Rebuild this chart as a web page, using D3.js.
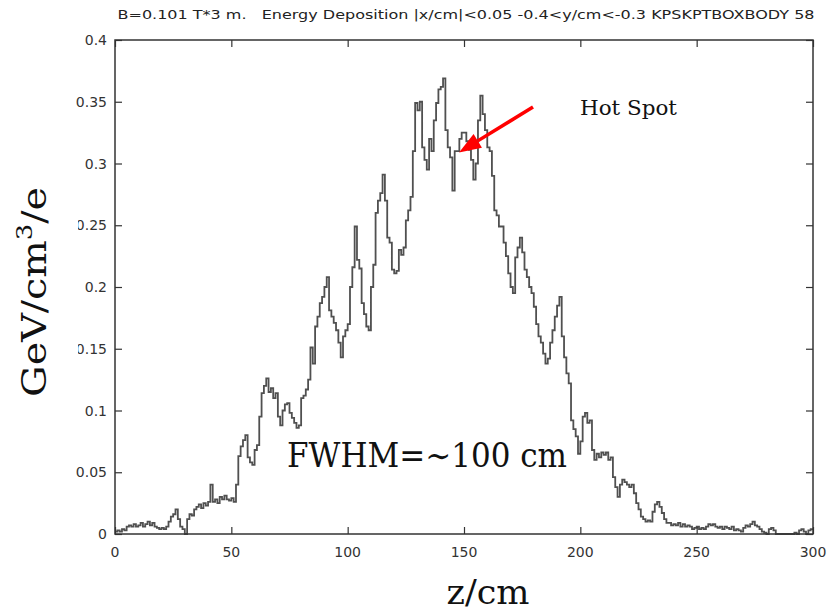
<!DOCTYPE html>
<html>
<head>
<meta charset="utf-8">
<script src="https://cdn.jsdelivr.net/npm/d3@7"></script>
<style>
html,body{margin:0;padding:0;background:#fff;}
svg{display:block;}
</style>
</head>
<body>
<svg id="chart" width="829" height="613"></svg>
<script>
// ---- data (1 cm bins, z = 0 .. 299) ----
const binStart = d3.range(0, 300, 1);
const energy = [
0.002,0.003,0.002,0.004,0.003,0.006,0.007,0.006,0.008,0.006,
0.007,0.009,0.006,0.008,0.010,0.007,0.009,0.006,0.005,0.004,
0.005,0.004,0.006,0.010,0.014,0.016,0.020,0.012,0.006,0.004,
0.000,0.012,0.016,0.015,0.020,0.022,0.024,0.021,0.025,0.023,
0.026,0.040,0.026,0.028,0.025,0.030,0.028,0.031,0.028,0.027,
0.029,0.026,0.040,0.063,0.071,0.076,0.080,0.062,0.058,0.056,
0.068,0.072,0.095,0.114,0.120,0.126,0.115,0.118,0.110,0.114,
0.095,0.088,0.100,0.105,0.106,0.098,0.094,0.090,0.086,0.088,
0.110,0.112,0.117,0.125,0.151,0.138,0.168,0.176,0.187,0.192,
0.200,0.208,0.181,0.176,0.171,0.165,0.155,0.143,0.160,0.165,
0.170,0.200,0.216,0.249,0.222,0.215,0.187,0.178,0.168,0.165,
0.200,0.218,0.260,0.270,0.276,0.291,0.270,0.240,0.236,0.214,
0.211,0.213,0.230,0.226,0.232,0.254,0.262,0.273,0.310,0.349,
0.343,0.350,0.313,0.303,0.295,0.320,0.310,0.335,0.349,0.360,
0.362,0.369,0.327,0.313,0.305,0.278,0.310,0.310,0.320,0.325,
0.325,0.318,0.311,0.303,0.287,0.300,0.335,0.355,0.340,0.327,
0.313,0.310,0.290,0.262,0.258,0.249,0.249,0.236,0.225,0.211,
0.200,0.195,0.224,0.232,0.240,0.228,0.214,0.208,0.200,0.195,
0.184,0.170,0.160,0.155,0.146,0.138,0.142,0.155,0.165,0.176,
0.185,0.192,0.160,0.143,0.130,0.122,0.092,0.085,0.079,0.065,
0.075,0.095,0.098,0.090,0.092,0.068,0.060,0.065,0.062,0.066,
0.064,0.066,0.060,0.062,0.046,0.038,0.030,0.040,0.044,0.042,
0.040,0.038,0.040,0.033,0.025,0.020,0.014,0.012,0.010,0.011,
0.010,0.018,0.024,0.026,0.022,0.017,0.012,0.009,0.009,0.007,
0.008,0.007,0.009,0.006,0.008,0.006,0.007,0.006,0.004,0.005,
0.006,0.004,0.005,0.004,0.006,0.008,0.007,0.008,0.006,0.005,
0.006,0.004,0.006,0.005,0.004,0.006,0.003,0.004,0.003,0.002,
0.005,0.007,0.006,0.008,0.010,0.007,0.006,0.004,0.002,0.001,
0.000,0.004,0.005,0.003,0.000,0.000,0.000,0.000,0.000,0.000,
0.000,0.000,0.001,0.000,0.003,0.004,0.002,0.000,0.003,0.004
];
const xTicks = [0, 50, 100, 150, 200, 250, 300];
const yTicks = [0, 0.05, 0.1, 0.15, 0.2, 0.25, 0.3, 0.35, 0.4];
const yTickLabels = ["0", "0.05", "0.1", "0.15", "0.2", "0.25", "0.3", "0.35", "0.4"];
const titleText = "B=0.101 T*3 m.   Energy Deposition |x/cm|<0.05 -0.4<y/cm<-0.3 KPSKPTBOXBODY 58";
const xLabel = "z/cm";
const annotFWHM = "FWHM=\u223C100 cm";
const annotHot = "Hot Spot";
const hotSpot = {z: 147, v: 0.309};

// ---- layout ----
const svg = d3.select("#chart");
const L = 115, R = 813, T = 40, B = 534;
const x = d3.scaleLinear().domain([0, 300]).range([L, R]);
const y = d3.scaleLinear().domain([0, 0.4]).range([B, T]);
const axisColor = "#333";
const tickFont = "DejaVu Sans, sans-serif";

// title
svg.append("text")
  .attr("x", (L + R) / 2 + 2).attr("y", 19)
  .attr("text-anchor", "middle")
  .attr("font-family", tickFont).attr("font-size", 12.5)
  .attr("fill", "#222")
  .attr("textLength", 697).attr("lengthAdjust", "spacingAndGlyphs")
  .style("white-space", "pre")
  .text(titleText);

// histogram line
const pts = binStart.map((z, i) => [z, energy[i]]);
pts.push([300, energy[energy.length - 1]]);
const line = d3.line().x(d => x(d[0])).y(d => y(d[1])).curve(d3.curveStepAfter);
svg.append("path")
  .attr("d", line(pts))
  .attr("fill", "none")
  .attr("stroke", "#505050")
  .attr("stroke-width", 1.8)
  .attr("stroke-linejoin", "miter");

// axes (inward ticks, mirrored)
const axL = d3.axisRight(y).tickValues(yTicks).tickSize(7).tickFormat("");
const axR = d3.axisLeft(y).tickValues(yTicks).tickSize(7).tickFormat("");
const axB = d3.axisTop(x).tickValues(xTicks).tickSize(7).tickFormat("");
const axT = d3.axisBottom(x).tickValues(xTicks).tickSize(7).tickFormat("");
function styleAxis(g){
  g.select(".domain").remove();
  g.selectAll("line").attr("stroke", axisColor).attr("stroke-width", 1.2);
}
svg.append("g").attr("transform", `translate(${L},0)`).call(axL).call(styleAxis);
svg.append("g").attr("transform", `translate(${R},0)`).call(axR).call(styleAxis);
svg.append("g").attr("transform", `translate(0,${B})`).call(axB).call(styleAxis);
svg.append("g").attr("transform", `translate(0,${T})`).call(axT).call(styleAxis);

// frame
svg.append("rect")
  .attr("x", L).attr("y", T).attr("width", R - L).attr("height", B - T)
  .attr("fill", "none").attr("stroke", axisColor).attr("stroke-width", 1.5);

// tick labels
svg.append("g").selectAll("text").data(yTicks).join("text")
  .attr("x", L - 8).attr("y", d => y(d) + 5)
  .attr("text-anchor", "end")
  .attr("font-family", tickFont).attr("font-size", 14).attr("fill", "#333")
  .text((d, i) => yTickLabels[i]);
svg.append("g").selectAll("text").data(xTicks).join("text")
  .attr("x", d => x(d)).attr("y", B + 23)
  .attr("text-anchor", "middle")
  .attr("font-family", tickFont).attr("font-size", 14).attr("fill", "#333")
  .text(d => d);

// y-axis label (box with white background that hides part of some tick labels)
svg.append("rect").attr("x", 0).attr("y", 185).attr("width", 78).attr("height", 215).attr("fill", "#fff");
const yl = svg.append("text")
  .attr("transform", "translate(46,292) rotate(-90)")
  .attr("text-anchor", "middle")
  .attr("font-family", "DejaVu Serif, serif").attr("font-size", 34).attr("fill", "#111")
  .attr("textLength", 210).attr("lengthAdjust", "spacingAndGlyphs");
yl.append("tspan").text("GeV/cm");
yl.append("tspan").attr("font-size", 22).attr("dy", -14).text("3");
yl.append("tspan").attr("dy", 14).text("/e");

// x-axis label
svg.append("text")
  .attr("x", 488).attr("y", 604)
  .attr("text-anchor", "middle")
  .attr("font-family", "DejaVu Serif, serif").attr("font-size", 33).attr("fill", "#111")
  .attr("textLength", 83).attr("lengthAdjust", "spacingAndGlyphs")
  .text(xLabel);

// annotations
svg.append("text")
  .attr("x", 287).attr("y", 467)
  .attr("font-family", "DejaVu Serif, serif").attr("font-size", 33).attr("fill", "#111")
  .attr("textLength", 280).attr("lengthAdjust", "spacingAndGlyphs")
  .text(annotFWHM);
svg.append("text")
  .attr("x", 580).attr("y", 115)
  .attr("font-family", "DejaVu Serif, serif").attr("font-size", 20).attr("fill", "#111")
  .attr("textLength", 97).attr("lengthAdjust", "spacingAndGlyphs")
  .text(annotHot);

// red arrow
const tipX = x(hotSpot.z) + 2, tipY = y(hotSpot.v);
const tailX = 533, tailY = 107;
const ang = Math.atan2(tipY - tailY, tipX - tailX);
const headLen = 22, headW = 8;
const baseX = tipX - headLen * Math.cos(ang), baseY = tipY - headLen * Math.sin(ang);
svg.append("line")
  .attr("x1", tailX).attr("y1", tailY).attr("x2", baseX).attr("y2", baseY)
  .attr("stroke", "#ff0000").attr("stroke-width", 3.5);
svg.append("path")
  .attr("d", `M${tipX},${tipY} L${baseX + headW * Math.sin(ang)},${baseY - headW * Math.cos(ang)} L${baseX - headW * Math.sin(ang)},${baseY + headW * Math.cos(ang)} Z`)
  .attr("fill", "#ff0000");
</script>
</body>
</html>
